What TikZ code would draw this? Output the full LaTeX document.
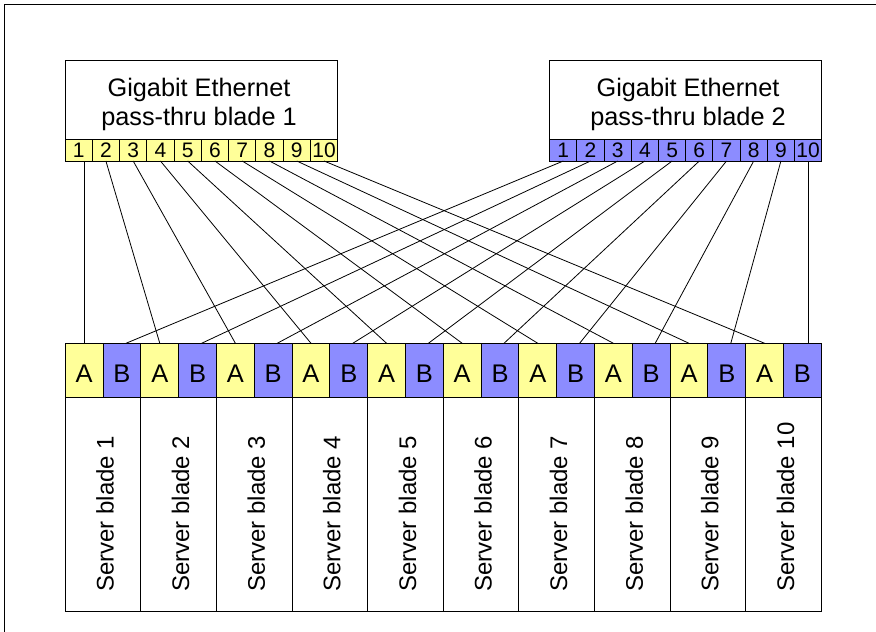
\documentclass[tikz,border=0pt]{standalone}
\usepackage{fontspec}
\setmainfont{Liberation Sans}
\definecolor{portyellow}{HTML}{FFFF99}
\definecolor{portblue}{HTML}{8C8CFF}
\tikzset{
  box/.style={draw, line width=1pt, inner sep=0pt, outer sep=0pt},
  ycell/.style={box, fill=portyellow},
  bcell/.style={box, fill=portblue},
  portnum/.style={font=\fontsize{21}{24}\selectfont, minimum height=21.5pt, anchor=north west},
  abcell/.style={font=\fontsize{25.5}{30}\selectfont, minimum width=37.8pt, minimum height=53.7pt, text height=24.5pt, text depth=0pt, anchor=north west},
  titletext/.style={inner sep=0pt, align=center, font=\fontsize{25.3}{28.3}\selectfont},
  servertext/.style={inner sep=0pt, font=\fontsize{24}{28}\selectfont, rotate=90, anchor=base west},
  wire/.style={line width=0.8pt},
  outerframe/.style={line width=1pt}
}
\begin{document}
\begin{tikzpicture}[x=1pt,y=-1pt]
\useasboundingbox (0,0) rectangle (876,632);
\draw[outerframe] (4,632) -- (4,4) -- (876,4);
\node[box, minimum width=272.7pt, minimum height=101pt, anchor=north west] (g1) at (65,60) {};
\node[titletext] (t1) at (199,104.4) {Gigabit Ethernet\\pass-thru blade 1};
\node[box, minimum width=272pt, minimum height=101pt, anchor=north west] (g2) at (549.7,60) {};
\node[titletext] (t2) at (688,104.4) {Gigabit Ethernet\\pass-thru blade 2};
\foreach \i in {1,...,10} {
  \node[ycell, portnum, minimum width=27.27pt] (p1-\i) at ({65+(\i-1)*27.27},139.5) {\i};
  \node[bcell, portnum, minimum width=27.2pt] (p2-\i) at ({549.7+(\i-1)*27.2},139.5) {\i};
  \node[ycell, abcell] (A\i) at ({65.3+(2*\i-2)*37.8},343.3) {A};
  \node[bcell, abcell] (B\i) at ({65.3+(2*\i-1)*37.8},343.3) {B};
  \node[box, minimum width=75.6pt, minimum height=214pt, anchor=north west] (s\i) at ({65.3+(\i-1)*75.6},397) {};
  \node[servertext] (st\i) at ({65.3+(\i-0.5)*75.6+10.5},592) {Server blade \i};
}
\draw[wire] (A1.north) -- (A1.north |- p1-1.south);
\foreach \i in {2,...,10} \draw[wire] (p1-\i.south) -- (A\i.north);
\foreach \i in {1,...,9} \draw[wire] (p2-\i.south) -- ([xshift=4pt]B\i.north);
\draw[wire] (p2-10.south) -- (p2-10.south |- B10.north);
\end{tikzpicture}
\end{document}
